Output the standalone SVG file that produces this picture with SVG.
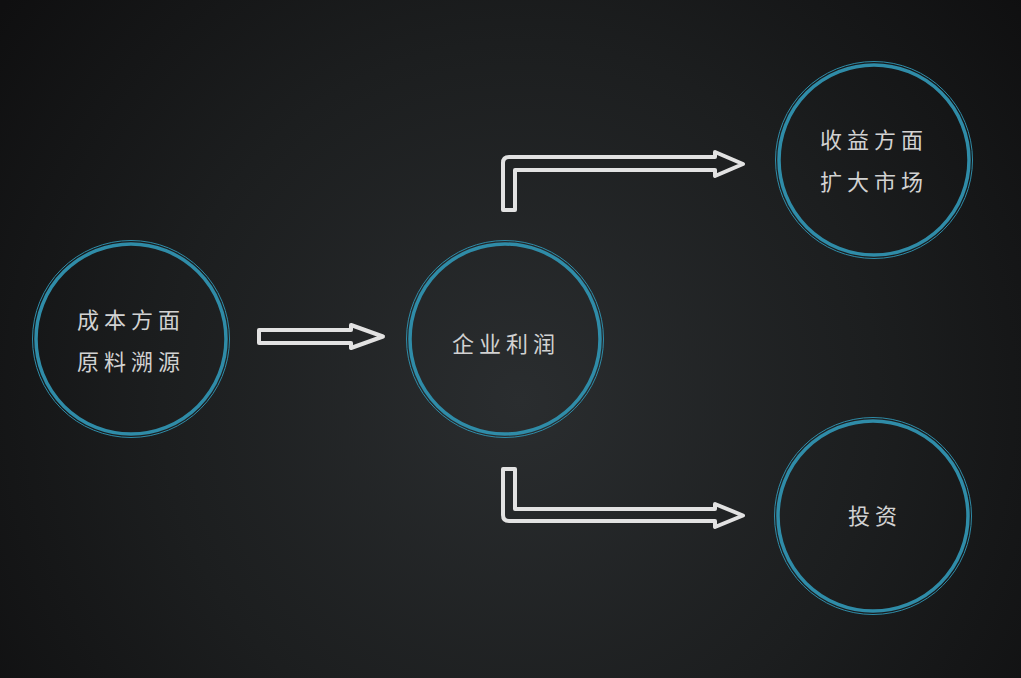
<svg xmlns="http://www.w3.org/2000/svg" width="1021" height="678" viewBox="0 0 1021 678">
<defs>
<radialGradient id="bg" cx="520" cy="400" r="650" gradientUnits="userSpaceOnUse">
<stop offset="0" stop-color="#2a2d2f"/>
<stop offset="0.55" stop-color="#1c1e1f"/>
<stop offset="1" stop-color="#0f0f10"/>
</radialGradient>
</defs>
<style>
.ring{fill:none;stroke:#2f8ca8;stroke-width:3.5}
.thin{fill:none;stroke:#2f8ca8;stroke-width:1}
.lbl{font-family:"Noto Sans CJK SC","Noto Sans",sans-serif;font-size:22px;fill:#d2d2d2;letter-spacing:5px;text-anchor:middle}
.arr{fill:none;stroke:#e2e2e2;stroke-width:4;stroke-linejoin:round}
</style>
<rect width="1021" height="678" fill="url(#bg)"/>
<g id="connectors">
<path class="arr" d="M259,330 L351,330 L351,325 L383,336.5 L351,348 L351,343 L259,343 Z"/>
<path class="arr" d="M503,210 L503,163 Q503,157 509,157 L715,157 L715,152 L743,164 L715,176 L715,170 L515,170 L515,210 Z"/>
<path class="arr" d="M503,469 L515,469 L515,509 L715,509 L715,504 L743,515.5 L715,527 L715,521 L509,521 Q503,521 503,515 Z"/>
</g>
<g id="node-cost">
<circle class="ring" cx="131" cy="339" r="95"/>
<circle class="thin" cx="131" cy="339" r="98.5"/>
<text class="lbl" x="131" y="328">成本方面</text>
<text class="lbl" x="131" y="370">原料溯源</text>
</g>
<g id="node-profit">
<circle class="ring" cx="505" cy="339" r="95"/>
<circle class="thin" cx="505" cy="339" r="98.5"/>
<text class="lbl" x="506" y="352">企业利润</text>
</g>
<g id="node-revenue">
<circle class="ring" cx="874" cy="160" r="95"/>
<circle class="thin" cx="874" cy="160" r="98.5"/>
<text class="lbl" x="874" y="148">收益方面</text>
<text class="lbl" x="874" y="190">扩大市场</text>
</g>
<g id="node-invest">
<circle class="ring" cx="873" cy="516" r="95"/>
<circle class="thin" cx="873" cy="516" r="98.5"/>
<text class="lbl" x="875" y="524">投资</text>
</g>
</svg>
